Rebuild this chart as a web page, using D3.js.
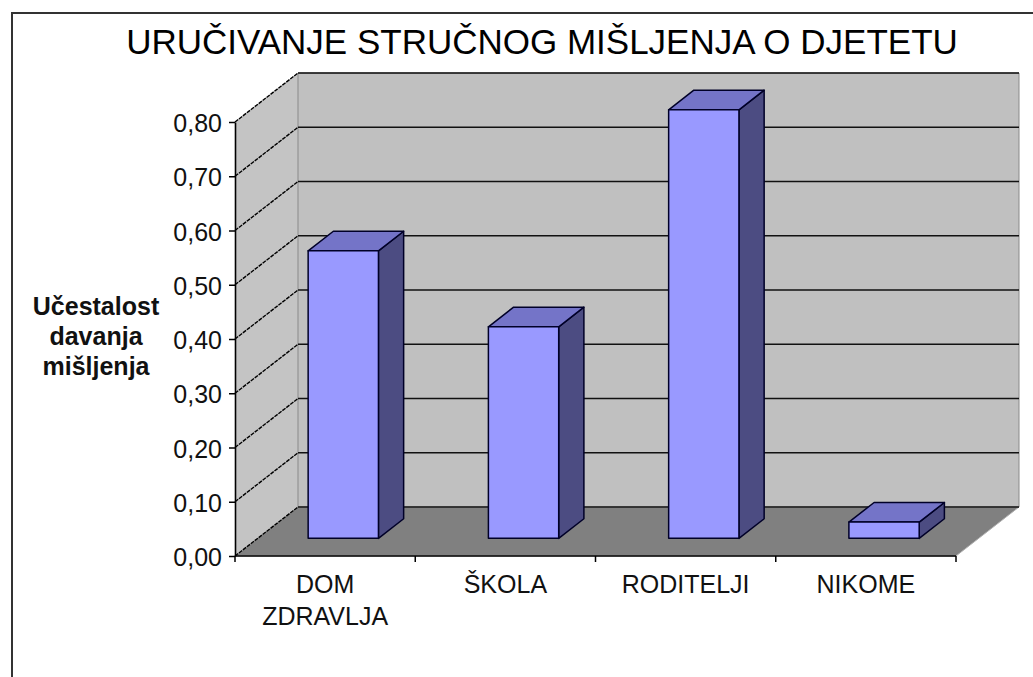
<!DOCTYPE html>
<html>
<head>
<meta charset="utf-8">
<script src="https://cdn.jsdelivr.net/npm/d3@7"></script>
<style>
  body { margin: 0; background: #fff; }
  text { font-family: "Liberation Sans", Arial, sans-serif; }
</style>
</head>
<body>
<svg id="chart" width="1033" height="677"></svg>
<script>
// data
var categories = ["DOM ZDRAVLJA", "ŠKOLA", "RODITELJI", "NIKOME"];
var categoryLines = [["DOM", "ZDRAVLJA"], ["ŠKOLA"], ["RODITELJI"], ["NIKOME"]];
var values = [0.53, 0.39, 0.79, 0.03];
var yTicks = [0, 0.1, 0.2, 0.3, 0.4, 0.5, 0.6, 0.7, 0.8];
var titleText = "URUČIVANJE STRUČNOG MIŠLJENJA O DJETETU";
var yTitleLines = ["Učestalost", "davanja", "mišljenja"];

//-------- layout ---------
var chart_width = 1033, chart_height = 677;
var front = { left: 235, right: 956, top: 122, bottom: 556 };
var DX = 63, DY = -49;            // full depth offset of the 3d box
var barFront = 0.36, barBack = 0.76;

var svg = d3.select("#chart");

// outer frame (chart area border)
svg.append("rect")
  .attr("x", 12).attr("y", 13)
  .attr("width", 1100).attr("height", 800)
  .attr("fill", "#fff")
  .attr("stroke", "#333").attr("stroke-width", 2);

var xScale = d3.scaleBand()
  .domain(categories)
  .range([front.left, front.right]);

var yScale = d3.scaleLinear()
  .domain([0, 0.8])
  .range([front.bottom, front.top]);

var step = xScale.step();

// project a point of the front plane back by depth d (0..1)
function P(x, y, d) { return [x + d * DX, y + d * DY]; }
function poly(pts) { return pts.map(p => p.join(",")).join(" "); }

var g = svg.append("g");

// left wall
g.append("polygon")
  .attr("points", poly([P(front.left, yScale(0), 0), P(front.left, yScale(0.8), 0),
                        P(front.left, yScale(0.8), 1), P(front.left, yScale(0), 1)]))
  .attr("fill", "#c4c4c4");

// back wall
g.append("polygon")
  .attr("points", poly([P(front.left, yScale(0), 1), P(front.left, yScale(0.8), 1),
                        P(front.right, yScale(0.8), 1), P(front.right, yScale(0), 1)]))
  .attr("fill", "#c0c0c0")
  .attr("stroke", "#8a8a8a").attr("stroke-width", 1);

// floor
g.append("polygon")
  .attr("points", poly([P(front.left, yScale(0), 0), P(front.right, yScale(0), 0),
                        P(front.right, yScale(0), 1), P(front.left, yScale(0), 1)]))
  .attr("fill", "#808080")
  .attr("stroke", "#b0b0b0").attr("stroke-width", 1);

// gridlines on back wall + diagonals on left wall
g.append("g").selectAll("line.grid")
  .data(yTicks)
  .enter().append("line")
  .attr("x1", d => P(front.left, yScale(d), 1)[0])
  .attr("y1", d => P(front.left, yScale(d), 1)[1])
  .attr("x2", d => P(front.right, yScale(d), 1)[0])
  .attr("y2", d => P(front.right, yScale(d), 1)[1])
  .attr("stroke", "#111").attr("stroke-width", 1.6);

g.append("g").selectAll("line.diag")
  .data(yTicks)
  .enter().append("line")
  .attr("x1", d => P(front.left, yScale(d), 0)[0])
  .attr("y1", d => P(front.left, yScale(d), 0)[1])
  .attr("x2", d => P(front.left, yScale(d), 1)[0])
  .attr("y2", d => P(front.left, yScale(d), 1)[1])
  .attr("stroke", "#000").attr("stroke-width", 1.4)
  .attr("stroke-dasharray", "4,1");

// bars
var bars = g.append("g").selectAll("g.bar")
  .data(values)
  .enter().append("g");

function barX0(i) { return xScale(categories[i]) + step * 0.28; }
function barX1(i) { return barX0(i) + step * 0.39; }

bars.append("polygon") // side
  .attr("points", (d, i) => poly([P(barX1(i), yScale(0), barFront), P(barX1(i), yScale(d), barFront),
                                   P(barX1(i), yScale(d), barBack), P(barX1(i), yScale(0), barBack)]))
  .attr("fill", "#4c4c82").attr("stroke", "#000028").attr("stroke-width", 1.5)
  .attr("stroke-linejoin", "round");

bars.append("polygon") // top
  .attr("points", (d, i) => poly([P(barX0(i), yScale(d), barFront), P(barX1(i), yScale(d), barFront),
                                   P(barX1(i), yScale(d), barBack), P(barX0(i), yScale(d), barBack)]))
  .attr("fill", "#7474c8").attr("stroke", "#000028").attr("stroke-width", 1.5)
  .attr("stroke-linejoin", "round");

bars.append("polygon") // front
  .attr("points", (d, i) => poly([P(barX0(i), yScale(0), barFront), P(barX1(i), yScale(0), barFront),
                                   P(barX1(i), yScale(d), barFront), P(barX0(i), yScale(d), barFront)]))
  .attr("fill", "#9999ff").attr("stroke", "#000028").attr("stroke-width", 1.5)
  .attr("stroke-linejoin", "round");

// y axis
var commaFormat = d3.formatLocale({ decimal: ",", thousands: ".", grouping: [3], currency: ["", ""] }).format(".2f");

var yAxis = g.append("g")
  .attr("transform", "translate(" + front.left + ",0)")
  .call(d3.axisLeft(yScale).tickValues(yTicks).tickSize(6).tickSizeOuter(0).tickPadding(7).tickFormat(commaFormat));
yAxis.select(".domain").attr("stroke", "#000").attr("stroke-width", 1.6);
yAxis.selectAll(".tick line").attr("stroke", "#000").attr("stroke-width", 1.5);
yAxis.selectAll(".tick text")
  .attr("font-family", "'Liberation Sans', Arial, sans-serif")
  .attr("font-size", 25)
  .attr("fill", "#111")
  .attr("dy", "0.38em");

// x axis line + ticks at category boundaries
var xAxis = g.append("g");
xAxis.append("line")
  .attr("x1", front.left).attr("x2", front.right)
  .attr("y1", yScale(0)).attr("y2", yScale(0))
  .attr("stroke", "#000").attr("stroke-width", 1.6);
xAxis.selectAll("line.xt")
  .data(categories.concat(["end"]))
  .enter().append("line")
  .attr("x1", (d, i) => front.left + i * step)
  .attr("x2", (d, i) => front.left + i * step)
  .attr("y1", yScale(0)).attr("y2", yScale(0) + 6)
  .attr("stroke", "#000").attr("stroke-width", 1.5);

// category labels
var labels = xAxis.selectAll("text.cat")
  .data(categoryLines)
  .enter().append("text")
  .attr("text-anchor", "middle")
  .attr("font-size", 25)
  .attr("fill", "#111");
labels.selectAll("tspan")
  .data((d, i) => d.map(t => ({ t: t, i: i })))
  .enter().append("tspan")
  .attr("x", d => xScale(categories[d.i]) + step / 2)
  .attr("y", (d, j) => 593 + j * 32)
  .text(d => d.t);

// y axis title
svg.append("text")
  .attr("text-anchor", "middle")
  .attr("font-size", 25)
  .attr("font-weight", "bold")
  .attr("fill", "#111")
  .selectAll("tspan")
  .data(yTitleLines)
  .enter().append("tspan")
  .attr("x", 96)
  .attr("y", (d, i) => 315 + i * 30)
  .text(d => d);

// chart title
svg.append("text")
  .attr("x", 542)
  .attr("y", 54)
  .attr("text-anchor", "middle")
  .attr("font-size", 35)
  .attr("fill", "#000")
  .text(titleText);
</script>
</body>
</html>
